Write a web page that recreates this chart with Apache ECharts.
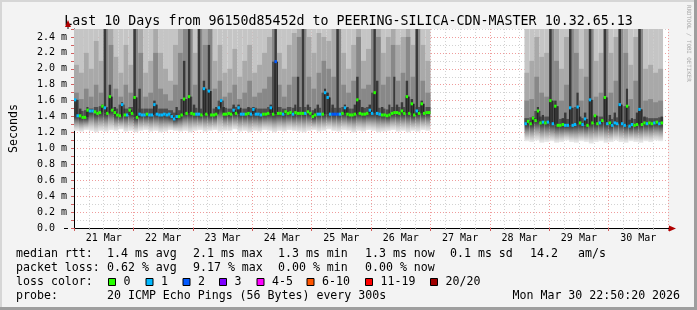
<!DOCTYPE html>
<html><head><meta charset="utf-8">
<script src="https://cdn.jsdelivr.net/npm/echarts@6/dist/echarts.min.js"></script>
<style>html,body{margin:0;padding:0;background:#f3f3f3;}#c{width:697px;height:310px;}</style>
</head><body><div id="c"></div>
<script>
// ---------- data ----------
const titleText = 'Last 10 Days from 96150d85452d to PEERING-SILICA-CDN-MASTER 10.32.65.13';
const dayLabels = ['21 Mar','22 Mar','23 Mar','24 Mar','25 Mar','26 Mar','27 Mar','28 Mar','29 Mar','30 Mar'];
const lossLabels = ['0','1','2','3','4-5','6-10','11-19','20/20'];
const lossColors = ['#26ff00','#00b8ff','#0059ff','#7e00ff','#ff00ff','#ff5500','#ff0000','#a00000'];
const rttStats = ['1.4 ms avg','2.1 ms max','1.3 ms min','1.3 ms now','0.1 ms sd','14.2','am/s'];
const lossStats = ['0.62 % avg','9.17 % max','0.00 % min','0.00 % now'];
const probeText = '20 ICMP Echo Pings (56 Bytes) every 300s';
const stampText = 'Mon Mar 30 22:50:20 2026';

// hourly median rtt (ms) and loss class, segment A starts at hour 0, segment B at hour 182
const startA = 0, startB = 182;
const medianA = [
 1.61,1.41,1.41,1.39,1.39,1.48,1.47,1.47,1.46,1.44,1.45,1.53,
 1.51,1.44,1.65,1.48,1.45,1.42,1.41,1.55,1.42,1.42,1.48,1.44,
 1.64,1.39,1.43,1.42,1.42,1.43,1.42,1.42,1.55,1.43,1.42,1.42,
 1.43,1.42,1.43,1.40,1.37,1.40,1.40,1.42,1.62,1.44,1.65,1.44,
 1.43,1.43,1.43,1.42,1.75,1.43,1.72,1.42,1.42,1.43,1.51,1.60,
 1.43,1.43,1.44,1.43,1.48,1.44,1.51,1.43,1.43,1.43,1.44,1.43,
 1.49,1.43,1.43,1.42,1.43,1.43,1.44,1.51,1.43,2.09,1.44,1.44,
 1.43,1.46,1.44,1.45,1.43,1.45,1.44,1.44,1.44,1.44,1.46,1.44,
 1.40,1.42,1.43,1.43,1.43,1.70,1.64,1.43,1.43,1.43,1.43,1.43,
 1.44,1.51,1.43,1.42,1.42,1.43,1.61,1.44,1.43,1.43,1.44,1.48,
 1.44,1.70,1.44,1.43,1.42,1.42,1.41,1.42,1.44,1.45,1.45,1.44,
 1.47,1.44,1.65,1.44,1.56,1.42,1.47,1.44,1.56,1.44,1.45,1.45
];
const lossA = [
 1,1,0,0,0,0,1,1,0,0,0,0,
 1,0,0,0,0,0,0,1,0,1,0,0,
 0,0,1,1,1,0,1,1,1,1,1,1,
 1,1,1,1,1,1,0,0,0,0,0,0,
 0,1,1,0,1,0,1,0,0,0,1,1,
 0,0,0,0,1,0,1,1,1,0,0,1,
 1,1,1,1,0,0,0,1,0,2,0,0,
 1,0,0,0,1,0,0,0,0,1,0,0,
 0,0,1,1,0,1,1,1,2,2,2,1,
 0,1,0,0,0,0,0,0,0,0,0,1,
 1,0,1,1,0,0,0,0,0,0,0,0,
 0,0,0,0,0,0,1,0,0,0,0,0
];
const medianB = [
 1.31,1.34,1.31,1.38,1.35,1.47,1.32,1.33,1.32,1.33,1.60,1.31,
 1.53,1.29,1.29,1.30,1.29,1.29,1.51,1.29,1.30,1.52,1.32,1.30,
 1.37,1.29,1.61,1.32,1.41,1.31,1.32,1.35,1.64,1.31,1.32,1.29,
 1.32,1.31,1.55,1.31,1.29,1.53,1.28,1.30,1.29,1.30,1.49,1.30,
 1.32,1.31,1.32,1.31,1.32,1.33,1.31,1.32
];
const lossB = [
 1,0,0,0,0,0,0,1,0,1,0,1,
 0,0,0,0,1,1,1,1,1,1,0,1,
 1,0,1,0,0,0,1,0,0,1,0,1,
 1,1,1,1,1,0,1,1,0,0,1,0,
 0,1,0,0,1,0,1,0
];

// smoke (2-hour columns): bottom of smoke, top of dark core, top of mid band, top of light band, top of outer band
const smokeMinA = [
 1.22,1.21,1.23,1.22,1.20,1.22,1.21,1.23,1.22,1.24,1.21,1.22,
 1.20,1.22,1.23,1.21,1.22,1.20,1.21,1.23,1.22,1.21,1.22,1.20,
 1.22,1.23,1.21,1.22,1.23,1.21,1.22,1.22,1.24,1.21,1.22,1.20,
 1.22,1.21,1.23,1.22,1.20,1.22,1.21,1.23,1.22,1.21,1.20,1.22,
 1.23,1.21,1.22,1.24,1.22,1.21,1.23,1.22,1.20,1.22,1.21,1.23,
 1.22,1.20,1.21,1.22,1.23,1.21,1.22,1.20,1.22,1.21,1.23,1.22
];
const smokeCoreA = [
 1.62,1.50,1.52,1.50,1.52,1.55,2.60,1.80,1.52,1.58,1.50,1.52,
 2.60,1.75,1.50,1.50,1.60,1.50,1.50,1.48,1.52,1.62,2.10,2.60,
 1.55,2.60,1.85,2.30,1.52,1.62,1.52,1.50,1.55,1.55,1.50,1.52,
 1.52,1.50,1.50,1.55,2.60,1.52,1.50,1.52,1.55,1.90,2.60,1.55,
 1.50,1.55,1.75,1.70,1.55,2.60,1.55,1.52,1.55,1.90,1.52,1.55,
 2.60,1.85,1.52,1.55,1.90,1.55,1.58,1.85,1.62,2.60,1.60,1.52
];
const smokeMidA = [
 1.70,1.62,1.75,1.65,1.80,1.70,2.60,2.30,1.75,1.65,1.80,1.70,
 2.60,2.20,1.65,1.70,2.20,1.75,1.68,1.60,1.80,2.20,2.60,2.60,
 1.80,2.60,2.30,2.60,1.75,1.85,1.65,1.70,1.80,1.62,1.70,1.85,
 1.65,1.70,1.75,1.90,2.60,1.80,1.65,1.80,1.90,2.40,2.60,1.90,
 1.75,1.95,2.10,2.00,1.90,2.60,1.80,1.70,1.85,2.40,1.75,1.80,
 2.60,2.40,1.80,1.90,2.30,1.85,1.95,2.40,1.90,2.60,1.85,1.70
];
const smokeHiA = [
 2.05,1.95,2.20,2.00,2.35,2.10,2.60,2.60,2.15,1.95,2.30,2.05,
 2.60,2.50,1.95,2.10,2.60,2.20,2.00,1.85,2.30,2.60,2.60,2.60,
 2.20,2.60,2.60,2.60,2.10,2.30,1.95,2.00,2.25,1.90,2.10,2.30,
 1.95,2.05,2.20,2.40,2.60,2.20,2.00,2.30,2.45,2.60,2.60,2.40,
 2.20,2.45,2.40,2.35,2.50,2.60,2.20,2.00,2.30,2.60,2.10,2.25,
 2.60,2.60,2.20,2.40,2.60,2.30,2.40,2.60,2.30,2.60,2.30,2.10
];
const smokeMaxA = [
 2.6,2.6,2.6,2.6,2.6,2.6,2.6,2.6,2.6,2.6,2.6,2.6,
 2.6,2.6,2.6,2.6,2.6,2.6,2.6,2.6,2.6,2.6,2.6,2.6,
 2.6,2.6,2.6,2.6,2.6,2.6,2.6,2.6,2.6,2.6,2.6,2.6,
 2.6,2.6,2.6,2.6,2.6,2.6,2.6,2.6,2.6,2.6,2.6,2.6,
 2.6,2.6,2.6,2.6,2.6,2.6,2.6,2.6,2.6,2.6,2.6,2.6,
 2.6,2.6,2.6,2.6,2.6,2.6,2.6,2.6,2.6,2.6,2.6,2.6
];
const smokeMinB = [
 1.09,1.08,1.10,1.07,1.08,1.09,1.07,1.08,1.10,1.08,1.07,1.09,
 1.08,1.06,1.08,1.09,1.07,1.08,1.10,1.08,1.07,1.09,1.08,1.07,
 1.09,1.08,1.10,1.09
];
const smokeCoreB = [
 1.38,1.40,1.52,1.42,1.40,2.60,1.60,1.38,1.45,2.60,1.70,1.40,
 1.45,2.60,1.42,1.40,2.60,1.42,1.45,2.60,1.75,1.38,1.45,2.60,
 1.40,1.38,1.38,1.40
];
const smokeMidB = [
 1.60,1.62,1.90,1.70,1.65,2.60,2.10,1.60,1.80,2.60,2.20,1.60,
 1.90,2.60,1.65,1.70,2.60,1.70,1.85,2.60,2.20,1.62,1.85,2.60,
 1.60,1.62,1.58,1.60
];
const smokeHiB = [
 1.95,2.10,2.40,2.15,2.20,2.60,2.60,2.00,2.40,2.60,2.60,2.00,
 2.50,2.60,2.10,2.20,2.60,2.20,2.40,2.60,2.60,2.05,2.40,2.60,
 2.00,2.05,1.95,2.00
];
const smokeMaxB = [
 2.6,2.6,2.6,2.6,2.6,2.6,2.6,2.6,2.6,2.6,2.6,2.6,
 2.6,2.6,2.6,2.6,2.6,2.6,2.6,2.6,2.6,2.6,2.6,2.6,
 2.6,2.6,2.6,2.6
];

// ---------- build ----------
function smokeItems(start, med, mn, core, mid, hi, mx) {
  const out = [];
  for (let c = 0; c < mn.length; c++) {
    const m0 = med[2*c], m1 = med[2*c+1] ?? med[2*c];
    const base = Math.min(m0, m1), peak = Math.max(m0, m1);
    const peakHour = start + 2*c + (m1 > m0 ? 1 : 0);
    out.push([start + 2*c, start + 2*c + 2, mn[c], base, core[c], mid[c], hi[c], mx[c], peak, peakHour]);
  }
  return out;
}
function medianItems(start, med, loss) {
  return med.map((m, i) => [start + i, m, loss[i], i > 0 ? med[i-1] : m]);
}
const smokeData = smokeItems(startA, medianA, smokeMinA, smokeCoreA, smokeMidA, smokeHiA, smokeMaxA)
  .concat(smokeItems(startB, medianB, smokeMinB, smokeCoreB, smokeMidB, smokeHiB, smokeMaxB));
const medianData = medianItems(startA, medianA, lossA).concat(medianItems(startB, medianB, lossB));

const MONO = '"DejaVu Sans Mono", monospace';
const chart = echarts.init(document.getElementById('c'), null, {renderer: 'canvas'});

function renderSmoke(params, api) {
  const cs = params.coordSys;
  const x0 = api.value(0), x1 = api.value(1);
  const mn = api.value(2), base = api.value(3), core = api.value(4), mid = api.value(5), hi = api.value(6), mx = api.value(7);
  const peak = api.value(8), peakHour = api.value(9);
  const rect = (xa, xb, lo, top, fill) => {
    const a = api.coord([xa, top]), b = api.coord([xb, lo]);
    const ya = Math.max(a[1], cs.y);
    return {type: 'rect', shape: {x: a[0], y: ya, width: b[0] - a[0], height: b[1] - ya}, style: {fill: fill}};
  };
  const coreWide = Math.min(core, Math.max(peak, base + 0.08));
  const children = [
    rect(x0, x1, base, mx, '#c5c5c5'),
    rect(x0, x1, base, hi, '#a9a9a9'),
    rect(x0, x1, base, mid, '#888888'),
    rect(x0, x1, base, coreWide, '#4e4e4e')
  ];
  if (core > coreWide) {
    children.push(rect(peakHour, peakHour + 1, base, core, '#3a3a3a'));
  }
  const g = new echarts.graphic.LinearGradient(0, 0, 0, 1, [
    {offset: 0, color: '#3a3a3a'}, {offset: 0.15, color: '#505050'},
    {offset: 0.35, color: '#7c7c7c'}, {offset: 0.55, color: '#a6a6a6'},
    {offset: 0.8, color: '#d2d2d2'}, {offset: 1, color: '#ececec'}
  ]);
  children.push(rect(x0, x1, mn, base, g));
  return {type: 'group', children: children};
}

function renderMedian(params, api) {
  const h = api.value(0), m = api.value(1), loss = api.value(2), prev = api.value(3);
  const a = api.coord([h, m]), b = api.coord([h + 1, m]), p = api.coord([h, prev]);
  return {type: 'group', children: [
    {type: 'line', shape: {x1: a[0] + 0.5, y1: p[1], x2: a[0] + 0.5, y2: a[1]}, style: {stroke: '#222', lineWidth: 1}},
    {type: 'rect', shape: {x: a[0], y: a[1] - 1.5, width: b[0] - a[0], height: 3}, style: {fill: lossColors[loss]}}
  ]};
}

const RED = '#ef9c9c', GREY = '#d2d2d2', ARROW = '#b00000';
const rows = [254, 268, 282, 296];
const graphics = [
  {type: 'rect', shape: {x: 0, y: 0, width: 697, height: 2}, style: {fill: '#d6d6d6'}, silent: true},
  {type: 'rect', shape: {x: 0, y: 0, width: 2, height: 310}, style: {fill: '#d6d6d6'}, silent: true},
  {type: 'rect', shape: {x: 694, y: 0, width: 3, height: 310}, style: {fill: '#9e9e9e'}, silent: true},
  {type: 'rect', shape: {x: 0, y: 307, width: 697, height: 3}, style: {fill: '#9e9e9e'}, silent: true},
  {type: 'text', x: 689, y: 5, rotation: -Math.PI / 2, style: {text: 'RRDTOOL / TOBI OETIKER', font: '5.8px ' + MONO, fill: '#a8a8a8', verticalAlign: 'middle'}},
  // axis arrows (decoration)
  {type: 'line', shape: {x1: 68, y1: 29, x2: 68, y2: 23}, style: {stroke: '#000', lineWidth: 1}, z: 10},
  {type: 'polygon', shape: {points: [[68, 20], [65, 27], [71, 27]]}, style: {fill: ARROW}, z: 11},
  {type: 'line', shape: {x1: 64, y1: 228.5, x2: 68, y2: 228.5}, style: {stroke: '#000', lineWidth: 1}, z: 10},
  {type: 'line', shape: {x1: 668, y1: 228.5, x2: 672, y2: 228.5}, style: {stroke: '#000', lineWidth: 1}, z: 10},
  {type: 'polygon', shape: {points: [[676, 228.5], [669, 225.5], [669, 231.5]]}, style: {fill: ARROW}, z: 11}
];
function txt(x, y, s) {
  graphics.push({type: 'text', x: x, y: y, style: {text: s, font: '11.6px ' + MONO, fill: '#000', verticalAlign: 'middle'}});
}
txt(16, rows[0], 'median rtt:');
[107, 193, 278, 365, 450, 530, 578].forEach((x, i) => txt(x, rows[0], rttStats[i]));
txt(16, rows[1], 'packet loss:');
[107, 193, 278, 365].forEach((x, i) => txt(x, rows[1], lossStats[i]));
txt(16, rows[2], 'loss color:');
const sqX = [108, 145.5, 182.5, 219, 256.5, 306.5, 365, 430];
sqX.forEach((x, i) => {
  graphics.push({type: 'rect', shape: {x: x + 0.5, y: 278.5, width: 7, height: 7}, style: {fill: lossColors[i], stroke: '#000', lineWidth: 1}});
  txt(x + 15.5, rows[2], lossLabels[i]);
});
txt(16, rows[3], 'probe:');
txt(107, rows[3], probeText);
txt(512.5, rows[3], stampText);

chart.setOption({
  animation: false,
  backgroundColor: '#f3f3f3',
  title: {text: titleText, left: 'center', top: 10, textStyle: {fontFamily: MONO, fontSize: 13.3, fontWeight: 'normal', color: '#000'}},
  grid: {left: 68, right: 29, top: 29, bottom: 82, show: true, backgroundColor: '#ffffff', borderWidth: 0},
  xAxis: [{
    type: 'value', min: 0, max: 240, interval: 24, position: 'bottom',
    axisLine: {show: true, onZero: false, lineStyle: {color: '#000', width: 1}},
    axisTick: {show: true, length: 3, lineStyle: {color: '#d06060'}},
    minorTick: {show: true, splitNumber: 4, length: 2, lineStyle: {color: '#aaaaaa'}},
    axisLabel: {show: false},
    splitLine: {show: true, lineStyle: {color: RED, type: [1, 2], width: 1}},
    minorSplitLine: {show: true, lineStyle: {color: GREY, type: [1, 2], width: 1}}
  }, {
    type: 'category', data: dayLabels, boundaryGap: true, position: 'bottom',
    axisLine: {show: false}, axisTick: {show: false}, splitLine: {show: false},
    axisLabel: {fontFamily: MONO, fontSize: 10, color: '#000', margin: 5}
  }],
  yAxis: {
    type: 'value', min: 0, max: 2.5, interval: 0.1,
    axisLine: {show: true, lineStyle: {color: '#000', width: 1}},
    axisTick: {show: true, length: 3, lineStyle: {color: '#d06060'}},
    axisLabel: {
      fontFamily: MONO, fontSize: 10, color: '#000', margin: 7,
      formatter: v => { const k = Math.round(v * 10); if (k % 2 || k > 24) return ''; if (k === 0) return '0.0  '; return (k / 10).toFixed(1) + ' m'; }
    },
    splitLine: {show: true, lineStyle: {color: [RED, GREY], type: [1, 2], width: 1}},
    name: 'Seconds', nameLocation: 'middle', nameGap: 54, nameRotate: 90,
    nameTextStyle: {fontFamily: MONO, fontSize: 11.6, color: '#000'}
  },
  series: [
    {type: 'custom', xAxisIndex: 0, yAxisIndex: 0, renderItem: renderSmoke, data: smokeData, clip: true, z: 2, silent: true,
     encode: {x: [0, 1], y: [2, 7]}},
    {type: 'custom', xAxisIndex: 0, yAxisIndex: 0, renderItem: renderMedian, data: medianData, clip: true, z: 3, silent: true,
     encode: {x: 0, y: 1}}
  ],
  graphic: graphics
});
</script></body></html>
